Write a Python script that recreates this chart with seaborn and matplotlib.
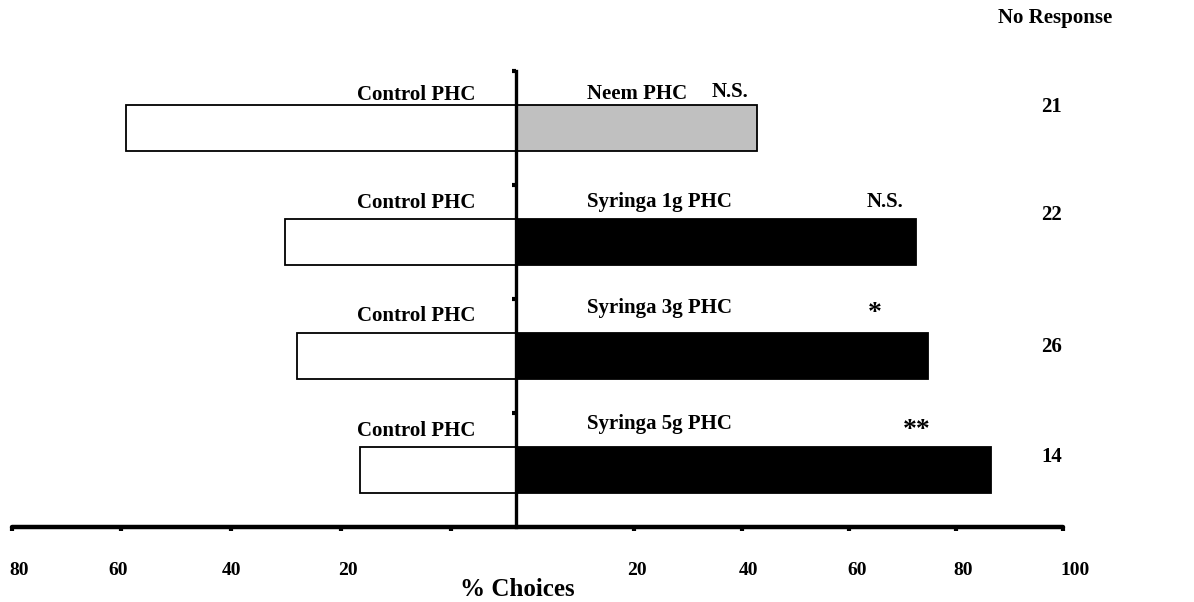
import matplotlib
matplotlib.use("Agg")
import matplotlib.pyplot as plt
import matplotlib.transforms as mtransforms
import seaborn as sns
import numpy as np
import pandas as pd

# ---- data ----
categories = ["Neem PHC", "Syringa 1g PHC", "Syringa 3g PHC", "Syringa 5g PHC"]
treatment_pct = [38.2, 63.4, 65.3, 75.3]
control_pct = [61.8, 36.6, 34.7, 24.7]
significance = ["N.S.", "N.S.", "*", "**"]
no_response = [21, 22, 26, 14]
tick_labels = ["80", "60", "40", "20", "", "20", "40", "60", "80", "100"]

sns.set_style("white")
plt.rcParams["font.family"] = ["Liberation Serif", "DejaVu Serif"]
plt.rcParams["font.weight"] = "bold"
plt.rcParams["text.color"] = "black"
plt.rcParams["xtick.color"] = "black"
plt.rcParams["ytick.color"] = "black"

fig = plt.figure(figsize=(11.94, 6.02), dpi=100)
ax = fig.add_axes([0, 0, 1, 1])

df = pd.DataFrame({"cat": categories, "treat": treatment_pct,
                   "ctrl": [-v for v in control_pct]})

sns.barplot(data=df, x="ctrl", y="cat", orient="h", color="white",
            edgecolor="black", linewidth=1.3, width=0.4, ax=ax, saturation=1)
sns.barplot(data=df, x="treat", y="cat", hue="cat", orient="h",
            palette=["#c0c0c0", "black", "black", "black"], legend=False,
            edgecolor="black", linewidth=1.3, width=0.4, ax=ax, saturation=1)

# axes limits mapping (zero line at ~516 px, 6.31 px per %)
ax.set_xlim(-516 / 6.31, (1194 - 516) / 6.31)
ax.set_ylim((602 - 128) / 114, -128 / 114)

ax.set_xlabel("")
ax.set_ylabel("")
ax.set_facecolor("none")

# spines
for s in ["top", "right"]:
    ax.spines[s].set_visible(False)
ax.spines["bottom"].set_position(("data", 3.5))
ax.spines["bottom"].set_bounds(-79.9, 86.7)
ax.spines["bottom"].set_linewidth(3.2)
ax.spines["bottom"].set_capstyle("round")
ax.spines["bottom"].set_zorder(5)
ax.spines["left"].set_position(("data", 0))
ax.spines["left"].set_bounds(-0.5, 3.5)
ax.spines["left"].set_linewidth(2.4)
ax.spines["left"].set_zorder(5)
for s in ["bottom", "left"]:
    ax.spines[s].set_color("black")
    ax.spines[s].set_visible(True)

xticks = [-79.9, -62.6, -45.2, -27.7, -10.3, 18.7, 35.8, 52.8, 69.7, 86.7]
label_shift_px = [7, -3, 1, 7, 0, 3, 7, 8, 7, 12]
ax.set_xticks(xticks)
ax.set_xticklabels(tick_labels, fontsize=14, fontweight="bold")
ax.tick_params(axis="x", direction="out", length=3, width=3, pad=22,
               bottom=True, color="black", labelcolor="black")
for lab, dx in zip(ax.get_xticklabels(), label_shift_px):
    off = mtransforms.ScaledTranslation(dx / 100, 0, fig.dpi_scale_trans)
    lab.set_transform(lab.get_transform() + off)
ax.set_yticks([-0.5, 0.5, 1.5, 2.5])
ax.set_yticklabels([])
ax.tick_params(axis="y", direction="out", length=3, width=3, left=True,
               color="black")

# row labels
ctrl_y_off = [-0.29, -0.34, -0.35, -0.34]
treat_y_off = [-0.30, -0.35, -0.42, -0.40]
sig_x = [33.9, 58.5, 56.9, 63.5]
sig_y_off = [-0.32, -0.35, -0.37, -0.35]
nr_y_off = [-0.18, -0.24, -0.08, -0.11]
for i, cat in enumerate(categories):
    ax.text(-15.8, i + ctrl_y_off[i], "Control PHC", ha="center", va="center",
            fontsize=15, fontweight="bold", color="black")
    ax.text(11.25, i + treat_y_off[i], cat, ha="left", va="center",
            fontsize=15, fontweight="bold", color="black")
    sig_fs = 15 if significance[i] == "N.S." else 20
    ax.text(sig_x[i], i + sig_y_off[i], significance[i], ha="center",
            va="center", fontsize=sig_fs, fontweight="bold", color="black")
    ax.text(84.9, i + nr_y_off[i], str(no_response[i]), ha="center",
            va="center", fontsize=15, fontweight="bold", color="black")

ax.text(85.4, -0.965, "No Response", ha="center", va="center", fontsize=15,
        fontweight="bold", color="black")
ax.text(0.2, 4.05, "% Choices", ha="center", va="center", fontsize=18,
        fontweight="bold", color="black")

fig.savefig("out.png", dpi=100)
